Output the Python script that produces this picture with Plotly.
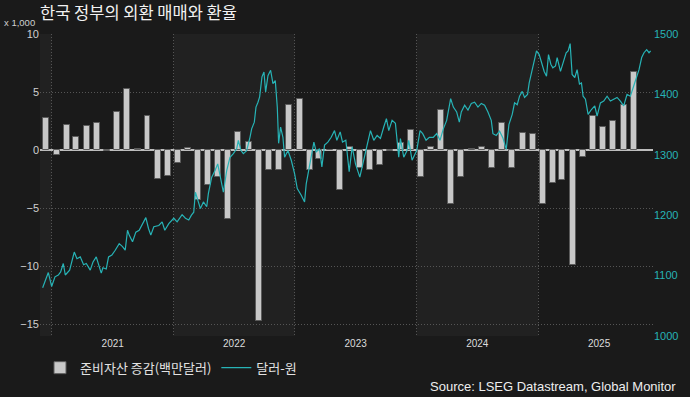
import plotly.graph_objects as go

# ---- data ----
bar_months = [
    "2020-12", "2021-01", "2021-02", "2021-03", "2021-04", "2021-05", "2021-06", "2021-07",
    "2021-08", "2021-09", "2021-10", "2021-11", "2021-12", "2022-01", "2022-02", "2022-03",
    "2022-04", "2022-05", "2022-06", "2022-07", "2022-08", "2022-09", "2022-10", "2022-11",
    "2022-12", "2023-01", "2023-02", "2023-03", "2023-04", "2023-05", "2023-06", "2023-07",
    "2023-08", "2023-09", "2023-10", "2023-11", "2023-12", "2024-01", "2024-02", "2024-03",
    "2024-04", "2024-05", "2024-06", "2024-07", "2024-08", "2024-09", "2024-10", "2024-11",
    "2024-12", "2025-01", "2025-02", "2025-03", "2025-04", "2025-05", "2025-06", "2025-07",
    "2025-08", "2025-09", "2025-10",
]
reserve_change = [
    2.8, -0.4, 2.2, 1.1, 2.1, 2.3, -0.1, 3.3,
    5.3, 0.1, 2.9, -2.5, -2.2, -1.1, 0.2, -4.3,
    -3.0, -2.3, -5.9, 1.6, 0.7, -14.7, -1.7, -1.7,
    3.9, 4.4, -1.7, -0.8, 0.0, -3.4, 0.3, -1.5,
    -1.7, -1.3, -0.1, 0.6, 1.7, -2.3, 0.3, 3.5,
    -4.6, -2.3, 0.1, 0.3, -1.5, 2.3, -1.5, 1.5,
    1.4, -4.6, -2.8, -2.6, -9.9, -0.6, 2.9, 2.0,
    2.5, 3.9, 6.7,
]

fx_dates = [
    "2020-12-04", "2020-12-21", "2020-12-31", "2021-01-10", "2021-01-20", "2021-01-27",
    "2021-02-04", "2021-02-10", "2021-02-23", "2021-03-09", "2021-03-17", "2021-03-27",
    "2021-04-06", "2021-04-14", "2021-04-26", "2021-05-04", "2021-05-14", "2021-05-21",
    "2021-05-29", "2021-06-03", "2021-06-13", "2021-06-20", "2021-06-30", "2021-07-10",
    "2021-07-22", "2021-08-01", "2021-08-09", "2021-08-16", "2021-08-21", "2021-08-31",
    "2021-09-10", "2021-09-20", "2021-09-30", "2021-10-10", "2021-10-18", "2021-10-25",
    "2021-11-03", "2021-11-18", "2021-11-28", "2021-12-06", "2021-12-18", "2022-01-02",
    "2022-01-12", "2022-01-27", "2022-02-06", "2022-02-16", "2022-02-24", "2022-03-03",
    "2022-03-08", "2022-03-15", "2022-03-23", "2022-04-01", "2022-04-11", "2022-04-16",
    "2022-04-26", "2022-05-06", "2022-05-14", "2022-05-21", "2022-05-31", "2022-06-10",
    "2022-06-20", "2022-06-30", "2022-07-10", "2022-07-15", "2022-07-23", "2022-07-30",
    "2022-08-09", "2022-08-19", "2022-08-24", "2022-09-01", "2022-09-06", "2022-09-12",
    "2022-09-17", "2022-09-24", "2022-09-30", "2022-10-05", "2022-10-12", "2022-10-20",
    "2022-10-27", "2022-11-03", "2022-11-09", "2022-11-13", "2022-11-19", "2022-11-26",
    "2022-12-01", "2022-12-11", "2022-12-21", "2022-12-31", "2023-01-08", "2023-01-20",
    "2023-01-30", "2023-02-04", "2023-02-11", "2023-02-19", "2023-02-27", "2023-03-06",
    "2023-03-16", "2023-03-23", "2023-03-31", "2023-04-10", "2023-04-20", "2023-04-30",
    "2023-05-07", "2023-05-17", "2023-05-24", "2023-06-03", "2023-06-13", "2023-06-22",
    "2023-07-02", "2023-07-15", "2023-07-25", "2023-08-06", "2023-08-16", "2023-08-26",
    "2023-09-05", "2023-09-15", "2023-09-25", "2023-10-03", "2023-10-10", "2023-10-20",
    "2023-10-30", "2023-11-04", "2023-11-09", "2023-11-14", "2023-11-24", "2023-12-04",
    "2023-12-09", "2023-12-19", "2023-12-29", "2024-01-02", "2024-01-12", "2024-01-20",
    "2024-01-30", "2024-02-09", "2024-02-21", "2024-03-02", "2024-03-12", "2024-03-22",
    "2024-04-01", "2024-04-06", "2024-04-13", "2024-04-21", "2024-05-01", "2024-05-09",
    "2024-05-15", "2024-05-25", "2024-06-04", "2024-06-14", "2024-06-24", "2024-07-04",
    "2024-07-14", "2024-07-24", "2024-08-03", "2024-08-13", "2024-08-18", "2024-08-28",
    "2024-09-07", "2024-09-17", "2024-09-27", "2024-10-05", "2024-10-15", "2024-10-22",
    "2024-10-30", "2024-11-06", "2024-11-14", "2024-11-21", "2024-11-30", "2024-12-05",
    "2024-12-13", "2024-12-20", "2024-12-27", "2025-01-04", "2025-01-11", "2025-01-19",
    "2025-01-26", "2025-02-01", "2025-02-08", "2025-02-14", "2025-02-22", "2025-02-27",
    "2025-03-09", "2025-03-19", "2025-03-26", "2025-04-01", "2025-04-07", "2025-04-13",
    "2025-04-21", "2025-04-28", "2025-05-05", "2025-05-11", "2025-05-16", "2025-05-23",
    "2025-05-31", "2025-06-10", "2025-06-20", "2025-06-27", "2025-07-07", "2025-07-17",
    "2025-07-27", "2025-08-06", "2025-08-16", "2025-08-26", "2025-09-05", "2025-09-15",
    "2025-09-25", "2025-10-05", "2025-10-15", "2025-10-25", "2025-10-31", "2025-11-08",
    "2025-11-15", "2025-11-23", "2025-11-30", "2025-12-05",
]
usd_krw = [
    1080, 1105, 1082, 1098, 1101, 1106,
    1120, 1101, 1109, 1139, 1128, 1131,
    1118, 1120, 1109, 1122, 1131, 1120,
    1104, 1113, 1111, 1131, 1134, 1142,
    1153, 1148, 1142, 1175, 1167, 1156,
    1172, 1175, 1186, 1196, 1178, 1167,
    1181, 1183, 1189, 1175, 1186, 1195,
    1189, 1201, 1195, 1192, 1200, 1205,
    1238, 1225, 1211, 1222, 1214, 1236,
    1263, 1274, 1285, 1266, 1238, 1274,
    1296, 1302, 1310, 1324, 1307, 1302,
    1307, 1329, 1343, 1354, 1379, 1387,
    1396, 1429, 1437, 1404, 1431, 1440,
    1418, 1423, 1379, 1319, 1346, 1329,
    1296, 1307, 1291, 1269, 1244, 1233,
    1222, 1252, 1274, 1296, 1321, 1305,
    1310, 1280, 1316, 1321, 1329, 1340,
    1324, 1338, 1321, 1324, 1272, 1313,
    1285, 1263, 1285, 1316, 1340, 1324,
    1332, 1327, 1346, 1360, 1340, 1357,
    1352, 1324, 1296, 1327, 1296, 1307,
    1324, 1291, 1302, 1307, 1340, 1335,
    1324, 1329, 1329, 1335, 1324, 1343,
    1357, 1374, 1393, 1379, 1371, 1354,
    1371, 1382, 1374, 1385, 1387, 1379,
    1385, 1382, 1371, 1357, 1335, 1332,
    1339, 1328, 1309, 1350, 1367, 1386,
    1383, 1397, 1405, 1395, 1400, 1419,
    1438, 1452, 1472, 1466, 1452, 1438,
    1430, 1466, 1450, 1444, 1447, 1461,
    1438, 1455, 1469, 1472, 1484, 1433,
    1428, 1441, 1417, 1419, 1397, 1392,
    1367, 1375, 1381, 1364, 1386, 1389,
    1397, 1389, 1392, 1395, 1389, 1381,
    1400, 1397, 1414, 1433, 1441, 1461,
    1469, 1474, 1469, 1472,
]

years = [2020, 2021, 2022, 2023, 2024, 2025]
title_text = "한국 정부의 외환 매매와 환율"
bar_name = "준비자산 증감(백만달러)"
line_name = "달러-원"
source_text = "Source: LSEG Datastream, Global Monitor"

# ---- styling ----
BG = "#1a1a1a"
BAND = "#212121"
TEAL = "#27b3b6"
GRID = "#555555"
LATIN = "Liberation Sans, Arial, sans-serif"
KR = "Noto Sans CJK KR, sans-serif"

x_start, x_end = "2020-11-26", "2025-12-12"

fig = go.Figure()

fig.add_trace(go.Bar(
    x=[m + "-15" for m in bar_months],
    y=reserve_change,
    name=bar_name,
    marker=dict(color="#c8c8c8", line=dict(color="#5c5c5c", width=1)),
    width=18 * 86400000,
    yaxis="y",
))

fig.add_trace(go.Scatter(
    x=fx_dates,
    y=usd_krw,
    name=line_name,
    mode="lines",
    line=dict(color=TEAL, width=1.2),
    yaxis="y2",
))

# alternating year bands
shapes = []
for i, yr in enumerate(years):
    if i % 2 == 0:
        x0 = max(f"{yr}-01-01", x_start)
        x1 = min(f"{yr + 1}-01-01", x_end)
        shapes.append(dict(type="rect", xref="x", yref="paper", x0=x0, x1=x1, y0=0, y1=1,
                           fillcolor=BAND, line=dict(width=0), layer="below"))

fig.update_layout(
    width=690, height=397,
    paper_bgcolor=BG, plot_bgcolor=BG,
    margin=dict(l=40, r=32, t=34, b=61),
    shapes=shapes,
    bargap=0,
    title=dict(text=title_text, x=40 / 690, xanchor="left", xref="container",
               y=1 - 13 / 397, yanchor="middle", yref="container",
               font=dict(family=KR, size=16.5, color="#f2f2f2")),
    xaxis=dict(
        type="date", range=[x_start, x_end],
        tick0="2021-01-01", dtick="M12", ticklabelmode="period", tickformat="%Y",
        showgrid=True, gridcolor=GRID, griddash="1px,2px", gridwidth=1,
        showline=False, zeroline=False, ticks="",
        tickfont=dict(family=LATIN, size=10, color="#dcdcdc"),
    ),
    yaxis=dict(
        range=[-16, 10], tickvals=[-15, -10, -5, 0, 5, 10],
        showgrid=True, gridcolor=GRID, griddash="1px,2px", gridwidth=1,
        zeroline=True, zerolinecolor="#bdbdbd", zerolinewidth=1.5,
        showline=False, ticks="",
        tickfont=dict(family=LATIN, size=11, color="#cfcfcf"),
    ),
    yaxis2=dict(
        range=[1000, 1500], tickvals=[1000, 1100, 1200, 1300, 1400, 1500],
        overlaying="y", side="right", showgrid=False, zeroline=False,
        showline=False, ticks="",
        tickfont=dict(family=LATIN, size=11, color=TEAL),
    ),
    showlegend=True,
    legend=dict(orientation="h", x=0, xanchor="left", y=-0.105, yanchor="middle",
                bgcolor="rgba(0,0,0,0)", itemwidth=30,
                font=dict(family=KR, size=13, color="#e2e2e2")),
    annotations=[
        dict(text="x 1,000", xref="paper", yref="paper", x=-0.005, y=1.038,
             xanchor="right", yanchor="middle", showarrow=False,
             font=dict(family=LATIN, size=9.5, color="#cfcfcf")),
        dict(text=source_text, xref="paper", yref="paper", x=(683 - 40) / 618, y=-0.1686,
             xanchor="right", yanchor="middle", showarrow=False,
             font=dict(family="Liberation Sans Narrow, Arial Narrow, sans-serif", size=13,
                       color="#eeeeee")),
    ],
)

fig.write_html(
    "out.html",
    config={"displayModeBar": False},
    post_script="document.body.style.margin='0px';document.body.style.background='#1a1a1a';",
)
